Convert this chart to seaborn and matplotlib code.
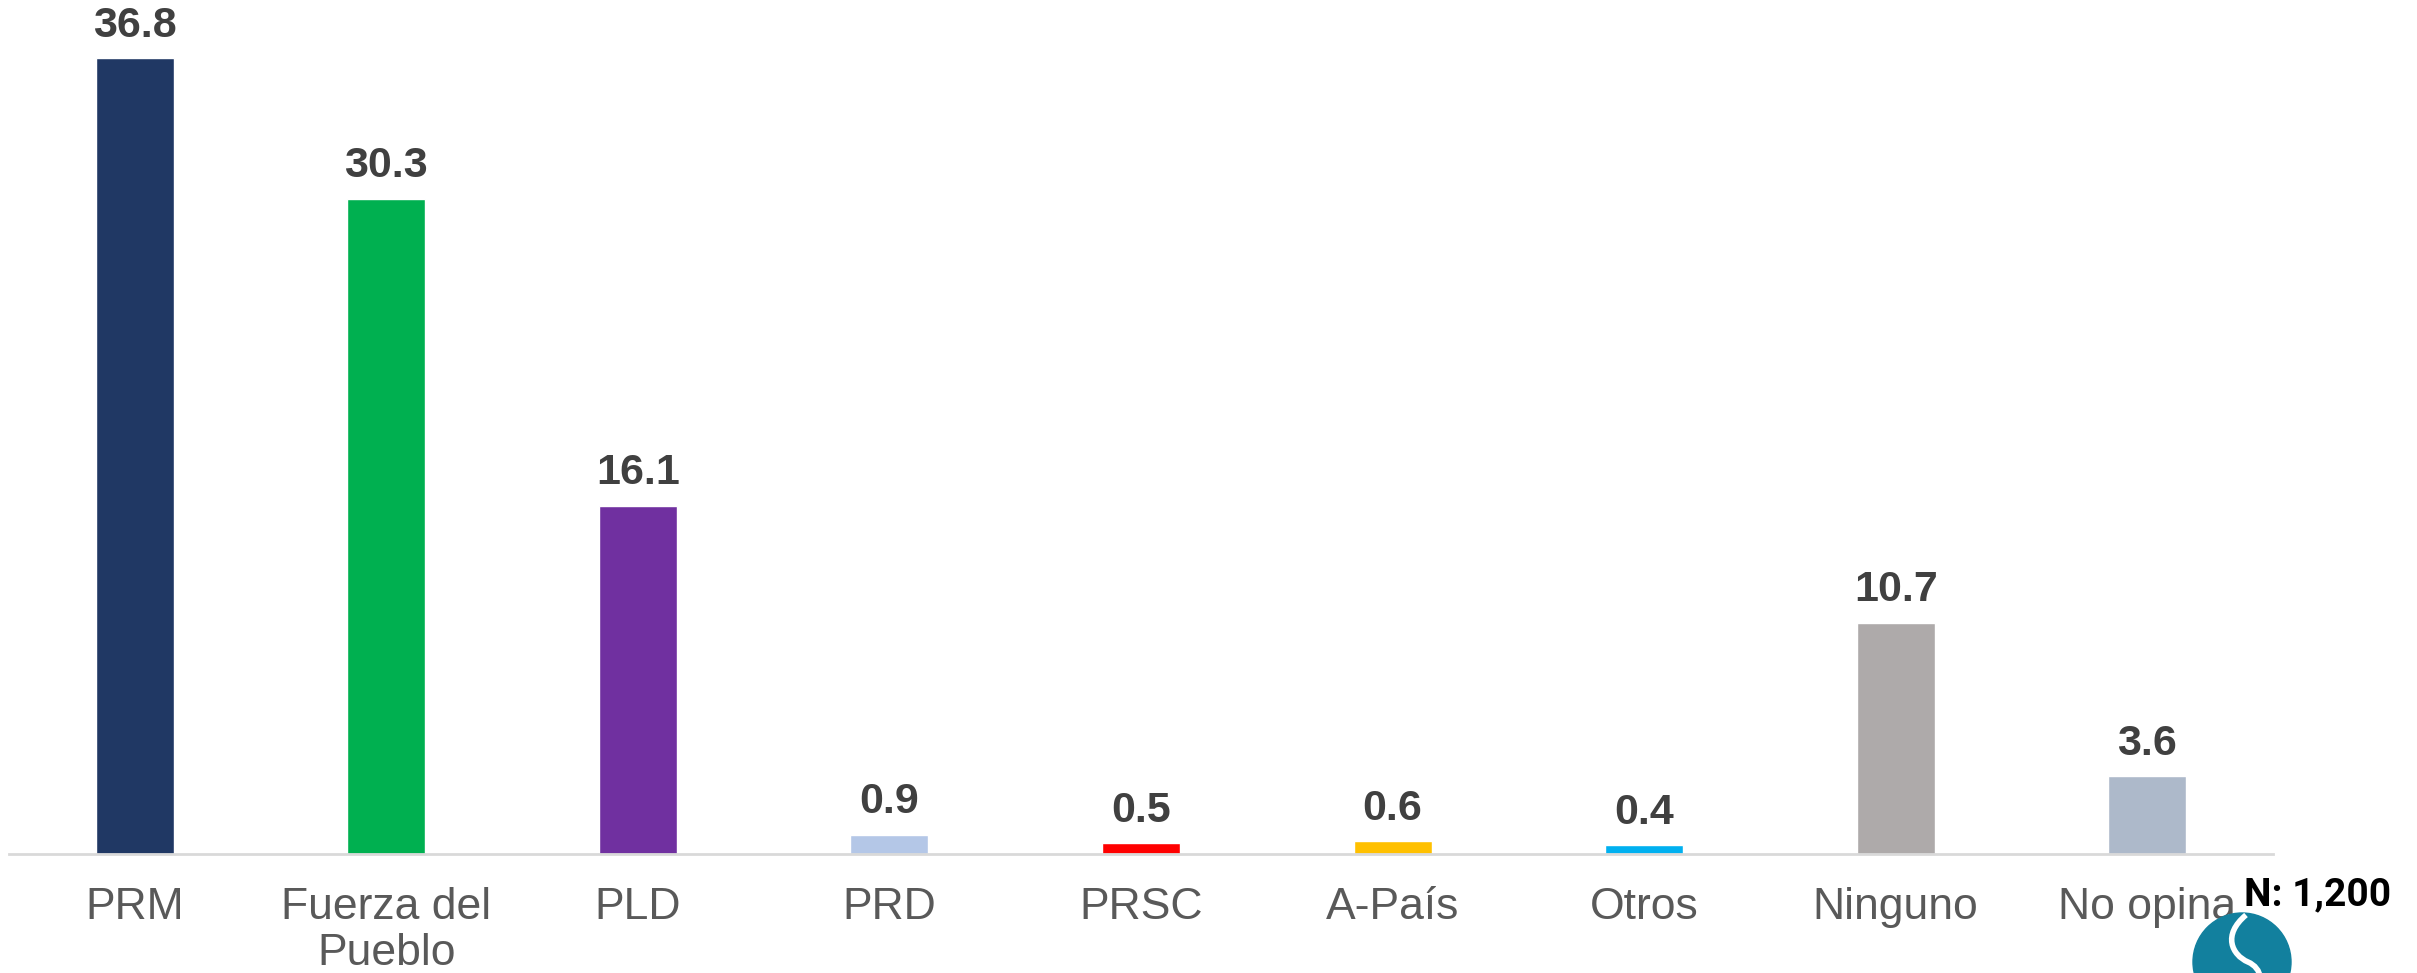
import matplotlib
matplotlib.use('Agg')
import matplotlib.pyplot as plt
import seaborn as sns
import pandas as pd
from matplotlib.patches import Circle, PathPatch
from matplotlib.path import Path

# ---------- data ----------
categories = ['PRM', 'Fuerza del\nPueblo', 'PLD', 'PRD', 'PRSC', 'A-País', 'Otros', 'Ninguno', 'No opina']
values = [36.8, 30.3, 16.1, 0.9, 0.5, 0.6, 0.4, 10.7, 3.6]
bar_colors = ['#203864', '#00B050', '#7030A0', '#B4C7E7', '#FF0000',
              '#FFC000', '#00B0F0', '#AEAAAA', '#ADB9CA']
sample_note = 'N: 1,200'

df = pd.DataFrame({'partido': categories, 'pct': values})

sns.set_theme(style='white')
plt.rcParams['font.family'] = ['Liberation Sans', 'DejaVu Sans']

fig = plt.figure(figsize=(24.17, 9.73), dpi=100)
ax = fig.add_axes([9 / 2417, (973 - 854) / 973, (2273 - 9) / 2417, 854 / 973])

sns.barplot(data=df, x='partido', y='pct', hue='partido', palette=bar_colors,
            legend=False, width=0.31, saturation=1, ax=ax)

ax.set_ylim(0, 39.5)
ax.set_xlim(-0.5, len(categories) - 0.5)
for c in ax.containers:
    ax.bar_label(c, fmt='%.1f', padding=9, fontsize=31, fontweight='bold', color='#404040')

ax.set_xlabel('')
ax.set_ylabel('')
ax.set_yticks([])
ax.tick_params(axis='x', length=0, pad=24, labelsize=32, labelcolor='#595959')
for lbl in ax.get_xticklabels():
    lbl.set_linespacing(1.14)
sns.despine(ax=ax, left=True, top=True, right=True)
ax.spines['bottom'].set_color('#D9D9D9')
ax.spines['bottom'].set_linewidth(2)

# sample size note
fig.text(2318 / 2417, 1 - 895 / 973, sample_note, ha='center', va='center',
         fontsize=28, fontweight='bold', color='black',
         family=['Roboto', 'Liberation Sans', 'DejaVu Sans'])

# small logo in the corner (cut off by the bottom edge)
lax = fig.add_axes([0, 0, 1, 1], zorder=5)
lax.set_xlim(0, 2417)
lax.set_ylim(973, 0)
lax.axis('off')
lax.add_patch(Circle((2242, 962), 49, color='#12809E'))
s_path = Path([(2246, 915), (2222, 935), (2232, 955), (2248, 962),
               (2262, 968), (2266, 985), (2250, 1000)],
              [Path.MOVETO, Path.CURVE4, Path.CURVE4, Path.CURVE4,
               Path.CURVE4, Path.CURVE4, Path.CURVE4])
lax.add_patch(PathPatch(s_path, facecolor='none', edgecolor='white', lw=4))

fig.savefig('out.png', dpi=100)
